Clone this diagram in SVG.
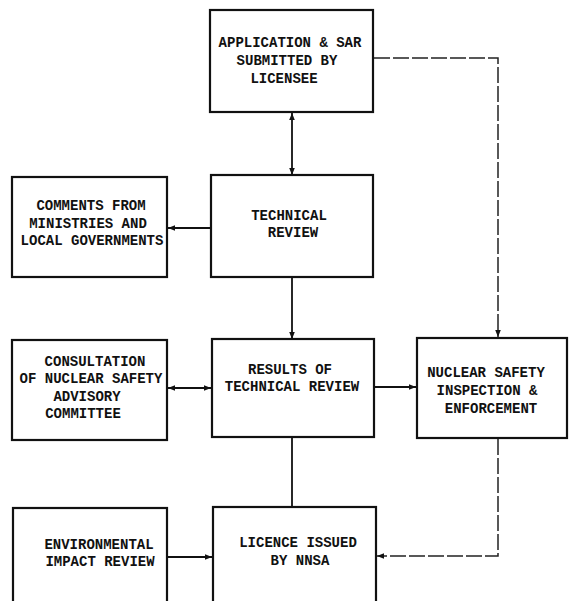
<svg xmlns="http://www.w3.org/2000/svg" width="569" height="601" viewBox="0 0 569 601">
<style>
.box{fill:#fff;stroke:#111;stroke-width:2.2}
.t{font-family:"Liberation Mono","DejaVu Sans Mono",monospace;font-weight:bold;font-size:14px;fill:#111;text-anchor:middle}
.c{fill:none;stroke:#111;stroke-width:1.8}
.d{fill:none;stroke:#222;stroke-width:1.5;stroke-dasharray:16 3}
</style>
<defs>
<marker id="ah" viewBox="0 0 10 10" refX="10" refY="5" markerWidth="7" markerHeight="7" orient="auto-start-reverse" markerUnits="userSpaceOnUse">
<path d="M0,1 L10,5 L0,9 Z" fill="#111"/>
</marker>
</defs>
<rect width="569" height="601" fill="#fff"/>
<g id="connectors">
<line class="c" x1="292" y1="113" x2="292" y2="175" marker-start="url(#ah)" marker-end="url(#ah)"/>
<line class="c" x1="211" y1="228" x2="168" y2="228" marker-end="url(#ah)"/>
<line class="c" x1="292" y1="277" x2="292" y2="339" marker-end="url(#ah)"/>
<line class="c" x1="168" y1="388" x2="211" y2="388" marker-start="url(#ah)" marker-end="url(#ah)"/>
<line class="c" x1="374" y1="387" x2="416" y2="387" marker-end="url(#ah)"/>
<line class="c" x1="292" y1="438" x2="292" y2="507"/>
<line class="c" x1="168" y1="557" x2="212" y2="557" marker-end="url(#ah)"/>
<polyline class="d" points="374,58 498,58 498,337" marker-end="url(#ah)"/>
<polyline class="d" points="498,439 498,556 377,556" marker-end="url(#ah)"/>
</g>
<g id="application">
<rect class="box" x="210" y="10" width="163" height="102"/>
<text class="t" x="290" y="47">APPLICATION &amp; SAR</text>
<text class="t" x="287" y="65">SUBMITTED BY</text>
<text class="t" x="284" y="83">LICENSEE</text>
</g>
<g id="technical-review">
<rect class="box" x="211" y="175" width="162" height="102"/>
<text class="t" x="289" y="220">TECHNICAL</text>
<text class="t" x="293" y="237">REVIEW</text>
</g>
<g id="comments">
<rect class="box" x="12" y="177" width="155" height="100"/>
<text class="t" x="91" y="210">COMMENTS FROM</text>
<text class="t" x="88" y="228">MINISTRIES AND</text>
<text class="t" x="92" y="245">LOCAL GOVERNMENTS</text>
</g>
<g id="consultation">
<rect class="box" x="12" y="340" width="155" height="100"/>
<text class="t" x="95" y="366">CONSULTATION</text>
<text class="t" x="91" y="383">OF NUCLEAR SAFETY</text>
<text class="t" x="87" y="401">ADVISORY</text>
<text class="t" x="83" y="418">COMMITTEE</text>
</g>
<g id="results">
<rect class="box" x="212" y="339" width="162" height="98"/>
<text class="t" x="290" y="374">RESULTS OF</text>
<text class="t" x="292" y="391">TECHNICAL REVIEW</text>
</g>
<g id="inspection">
<rect class="box" x="417" y="338" width="150" height="100"/>
<text class="t" x="486" y="377">NUCLEAR SAFETY</text>
<text class="t" x="487" y="395">INSPECTION &amp;</text>
<text class="t" x="491" y="413">ENFORCEMENT</text>
</g>
<g id="environmental">
<rect class="box" x="13" y="508" width="154" height="110"/>
<text class="t" x="99" y="549">ENVIRONMENTAL</text>
<text class="t" x="100" y="566">IMPACT REVIEW</text>
</g>
<g id="licence">
<rect class="box" x="213" y="507" width="163" height="110"/>
<text class="t" x="298" y="547">LICENCE ISSUED</text>
<text class="t" x="300" y="565">BY NNSA</text>
</g>
</svg>
